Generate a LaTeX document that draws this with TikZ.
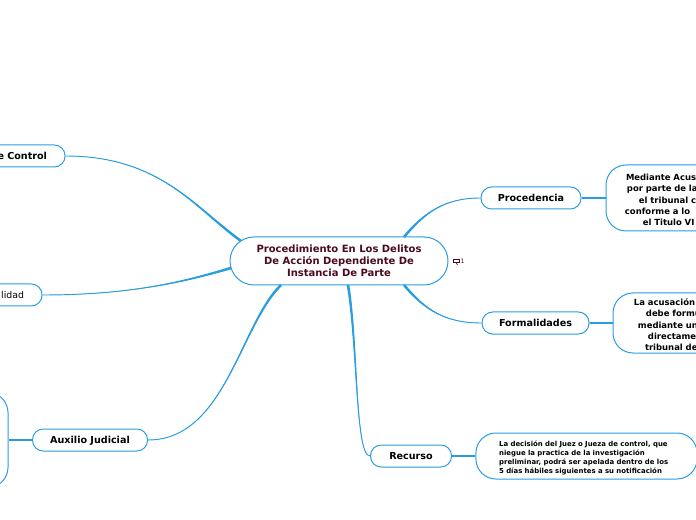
\documentclass[tikz,border=0pt]{standalone}
\usepackage{fontspec}
\setmainfont{DejaVu Sans}
\usepackage{xcolor}
\usepackage{tikz}
\usetikzlibrary{calc}
\definecolor{linkblue}{HTML}{2A9DE1}
\definecolor{rootred}{HTML}{4A0A20}
\newcommand{\taperlink}[4]{%
  \path [line] (#1) .. controls (#2) and (#3) .. (#4);
  \fill [linkblue] ($(#1)!1pt!90:(#2)$) .. controls ($(#2)!0.7pt!-90:(#1)$) and (#3) .. (#4) .. controls (#3) and ($(#2)!0.7pt!90:(#1)$) .. ($(#1)!1pt!-90:(#2)$) -- cycle;}

\begin{document}
\begin{tikzpicture}[x=0.75pt, y=-0.75pt, node distance=100pt,
      rootbox/.style={rectangle, draw=linkblue, fill=white, rounded corners=18pt, line width=0.75pt, minimum width=163.5pt, minimum height=36pt, align=center, text=rootred, font=\bfseries\fontsize{7.5}{9.1}\selectfont, execute at begin node={\rule{0pt}{7.2pt}}},
      branch/.style={rectangle, draw=linkblue, fill=white, rounded corners=8pt, line width=0.75pt, minimum height=16.5pt, inner sep=0pt, text height=6.5pt, text depth=1.4pt, font=\bfseries\fontsize{7.2}{9}\selectfont},
      leaf/.style={rectangle, draw=linkblue, fill=white, rounded corners=15pt, line width=0.75pt, inner xsep=13.5pt, inner ysep=0pt, minimum width=150pt, align=left, font=\bfseries\fontsize{6.35}{8.4}\selectfont, execute at begin node={\rule{0pt}{7.6pt}}},
      line/.style={draw=linkblue, line width=0.7pt},
      stub/.style={line, line width=1.1pt}]

      \useasboundingbox (0,0) rectangle (696,520);
      \clip (0,0) rectangle (696,520);

      % Nodes
      \node [rootbox] (root) at (339,261) {Procedimiento En Los Delitos\\De Acción Dependiente De\\Instancia De Parte};
      \node [branch, minimum width=75pt, right of=root, node distance=144pt, yshift=47.25pt] (proc) {Procedencia};
      \node [branch, minimum width=80.25pt, below of=proc, node distance=93.75pt, xshift=3.4pt] (forma) {Formalidades};
      \node [branch, minimum width=60.75pt, below of=root, node distance=146.25pt, xshift=54pt] (recur) {Recurso};
      \node [branch, minimum width=86.25pt, below of=root, node distance=134.25pt, xshift=-186.75pt] (aux) {Auxilio Judicial};

      \node [leaf, text width=123pt, minimum height=49.5pt, right of=proc, node distance=131.25pt] (acusa) {\hspace*{1.5pt}Mediante Acus\\\hspace*{2.2pt}por parte de la\\\hspace*{11.2pt}el tribunal c\\\hspace*{0.7pt}conforme a lo\\\hspace*{14.2pt}el Titulo VI};
      \node [leaf, text width=123pt, minimum height=45pt, right of=forma, node distance=133.1pt] (escrito) {\hspace*{2.2pt}La acusación p\\\hspace*{11.2pt}debe formu\\\hspace*{5.2pt}mediante un\\\hspace*{12.7pt}directamen\\\hspace*{10.5pt}tribunal de};
      \node [leaf, text width=131pt, minimum width=165.75pt, minimum height=34.5pt, inner xsep=17.4pt, right of=recur, node distance=131.6pt, font=\bfseries\fontsize{5.2}{6.75}\selectfont, execute at begin node={\rule{0pt}{5.6pt}}] (apela) {La decisión del Juez o Jueza de control, que\\niegue la practica de la investigación\\preliminar, podrá ser apelada dentro de los\\5 días hábiles siguientes a su notificación};
      \node [leaf, minimum height=71.25pt, left of=aux, node distance=136.5pt] (extra) {};

      \node [branch, text width=93pt, inner xsep=13.5pt, align=right, left of=root, node distance=265.5pt, yshift=78.75pt] (control) {e Control};
      \node [branch, text width=63pt, inner xsep=13.5pt, align=right, left of=root, node distance=267.75pt, yshift=-25.5pt, font=\fontsize{7}{9}\selectfont] (legal) {lidad};

      % Edges
      \coordinate (rootne) at (404,237);
      \coordinate (rootse) at (404,285);
      \coordinate (roots) at (348,285);
      \coordinate (rootsw) at (281,285);
      \coordinate (rootw) at (231,268);
      \coordinate (rootnw) at (241,241);
      \taperlink{rootne}{425,212}{445,198}{proc.west}
      \path [stub] (proc.east) -- (acusa.west);
      \taperlink{rootse}{425,310}{445,323}{forma.west}
      \path [stub] (forma.east) -- (escrito.west);
      \taperlink{roots}{358,345}{355,456}{recur.west}
      \path [stub] (recur.east) -- (apela.west);
      \taperlink{rootsw}{240,325}{225,440}{aux.east}
      \path [stub] (aux.west) -- (extra.east);
      \taperlink{rootnw}{195,208}{160,156}{control.east}
      \taperlink{rootw}{190,280}{135,295}{legal.east}

      % Annotations
      \node [draw=rootred, rectangle, line width=0.6pt, minimum width=4.5pt, minimum height=2.4pt, inner sep=0pt, right of=root, node distance=88.1pt] (note) {};
      \node [right of=note, node distance=4.6pt, inner sep=0pt, text=rootred, font=\fontsize{4.5}{5}\selectfont] (count) {1};
      \draw [line width=0.5pt, rootred] (note.south) -- ++(1,2);

    \end{tikzpicture}
\end{document}
